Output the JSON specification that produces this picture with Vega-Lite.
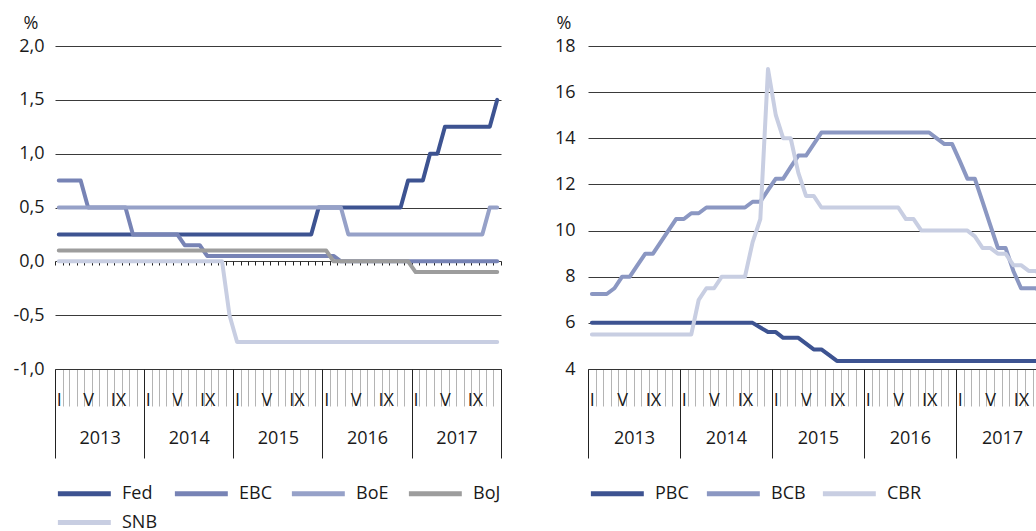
{
  "$schema": "https://vega.github.io/schema/vega-lite/v6.json",
  "padding": {"left": 12, "top": 14, "right": 0, "bottom": 0},
  "spacing": 8,
  "config": {
    "font": "Open Sans",
    "view": {"stroke": null},
    "axis": {"labelFontSize": 18, "labelColor": "#1a1a1a", "titleFontSize": 18, "titleColor": "#1a1a1a", "titleFontWeight": "normal"},
    "legend": {
      "orient": "bottom", "direction": "horizontal", "title": null,
      "symbolType": "M-1,0H7", "symbolSize": 175, "symbolStrokeWidth": 5,
      "labelFontSize": 18, "labelColor": "#1a1a1a", "labelOffset": 48,
      "gridAlign": "all", "columnPadding": 6, "rowPadding": 8, "offset": 25
    }
  },
  "resolve": {"scale": {"color": "independent"}},
  "datasets": {
    "left": [
      {"bank": "Fed", "d": "2013-01", "v": 0.25},
      {"bank": "Fed", "d": "2015-11", "v": 0.25},
      {"bank": "Fed", "d": "2015-12", "v": 0.5},
      {"bank": "Fed", "d": "2016-11", "v": 0.5},
      {"bank": "Fed", "d": "2016-12", "v": 0.75},
      {"bank": "Fed", "d": "2017-02", "v": 0.75},
      {"bank": "Fed", "d": "2017-03", "v": 1.0},
      {"bank": "Fed", "d": "2017-04", "v": 1.0},
      {"bank": "Fed", "d": "2017-05", "v": 1.25},
      {"bank": "Fed", "d": "2017-11", "v": 1.25},
      {"bank": "Fed", "d": "2017-12", "v": 1.5},
      {"bank": "EBC", "d": "2013-01", "v": 0.75},
      {"bank": "EBC", "d": "2013-04", "v": 0.75},
      {"bank": "EBC", "d": "2013-05", "v": 0.5},
      {"bank": "EBC", "d": "2013-10", "v": 0.5},
      {"bank": "EBC", "d": "2013-11", "v": 0.25},
      {"bank": "EBC", "d": "2014-05", "v": 0.25},
      {"bank": "EBC", "d": "2014-06", "v": 0.15},
      {"bank": "EBC", "d": "2014-08", "v": 0.15},
      {"bank": "EBC", "d": "2014-09", "v": 0.05},
      {"bank": "EBC", "d": "2016-02", "v": 0.05},
      {"bank": "EBC", "d": "2016-03", "v": 0.0},
      {"bank": "EBC", "d": "2017-12", "v": 0.0},
      {"bank": "BoE", "d": "2013-01", "v": 0.5},
      {"bank": "BoE", "d": "2016-03", "v": 0.5},
      {"bank": "BoE", "d": "2016-04", "v": 0.25},
      {"bank": "BoE", "d": "2017-10", "v": 0.25},
      {"bank": "BoE", "d": "2017-11", "v": 0.5},
      {"bank": "BoE", "d": "2017-12", "v": 0.5},
      {"bank": "BoJ", "d": "2013-01", "v": 0.1},
      {"bank": "BoJ", "d": "2016-01", "v": 0.1},
      {"bank": "BoJ", "d": "2016-02", "v": 0.0},
      {"bank": "BoJ", "d": "2016-12", "v": 0.0},
      {"bank": "BoJ", "d": "2017-01", "v": -0.1},
      {"bank": "BoJ", "d": "2017-12", "v": -0.1},
      {"bank": "SNB", "d": "2013-01", "v": 0.0},
      {"bank": "SNB", "d": "2014-11", "v": 0.0},
      {"bank": "SNB", "d": "2014-12", "v": -0.5},
      {"bank": "SNB", "d": "2015-01", "v": -0.75},
      {"bank": "SNB", "d": "2017-12", "v": -0.75}
    ],
    "right": [
      {"bank": "PBC", "d": "2013-01", "v": 6.0},
      {"bank": "PBC", "d": "2014-10", "v": 6.0},
      {"bank": "PBC", "d": "2014-11", "v": 5.8},
      {"bank": "PBC", "d": "2014-12", "v": 5.6},
      {"bank": "PBC", "d": "2015-01", "v": 5.6},
      {"bank": "PBC", "d": "2015-02", "v": 5.35},
      {"bank": "PBC", "d": "2015-04", "v": 5.35},
      {"bank": "PBC", "d": "2015-05", "v": 5.1},
      {"bank": "PBC", "d": "2015-06", "v": 4.85},
      {"bank": "PBC", "d": "2015-07", "v": 4.85},
      {"bank": "PBC", "d": "2015-08", "v": 4.6},
      {"bank": "PBC", "d": "2015-09", "v": 4.35},
      {"bank": "PBC", "d": "2017-12", "v": 4.35},
      {"bank": "BCB", "d": "2013-01", "v": 7.25},
      {"bank": "BCB", "d": "2013-03", "v": 7.25},
      {"bank": "BCB", "d": "2013-04", "v": 7.5},
      {"bank": "BCB", "d": "2013-05", "v": 8.0},
      {"bank": "BCB", "d": "2013-06", "v": 8.0},
      {"bank": "BCB", "d": "2013-07", "v": 8.5},
      {"bank": "BCB", "d": "2013-08", "v": 9.0},
      {"bank": "BCB", "d": "2013-09", "v": 9.0},
      {"bank": "BCB", "d": "2013-10", "v": 9.5},
      {"bank": "BCB", "d": "2013-11", "v": 10.0},
      {"bank": "BCB", "d": "2013-12", "v": 10.5},
      {"bank": "BCB", "d": "2014-01", "v": 10.5},
      {"bank": "BCB", "d": "2014-02", "v": 10.75},
      {"bank": "BCB", "d": "2014-03", "v": 10.75},
      {"bank": "BCB", "d": "2014-04", "v": 11.0},
      {"bank": "BCB", "d": "2014-09", "v": 11.0},
      {"bank": "BCB", "d": "2014-10", "v": 11.25},
      {"bank": "BCB", "d": "2014-11", "v": 11.25},
      {"bank": "BCB", "d": "2014-12", "v": 11.75},
      {"bank": "BCB", "d": "2015-01", "v": 12.25},
      {"bank": "BCB", "d": "2015-02", "v": 12.25},
      {"bank": "BCB", "d": "2015-03", "v": 12.75},
      {"bank": "BCB", "d": "2015-04", "v": 13.25},
      {"bank": "BCB", "d": "2015-05", "v": 13.25},
      {"bank": "BCB", "d": "2015-06", "v": 13.75},
      {"bank": "BCB", "d": "2015-07", "v": 14.25},
      {"bank": "BCB", "d": "2016-09", "v": 14.25},
      {"bank": "BCB", "d": "2016-10", "v": 14.0},
      {"bank": "BCB", "d": "2016-11", "v": 13.75},
      {"bank": "BCB", "d": "2016-12", "v": 13.75},
      {"bank": "BCB", "d": "2017-01", "v": 13.0},
      {"bank": "BCB", "d": "2017-02", "v": 12.25},
      {"bank": "BCB", "d": "2017-03", "v": 12.25},
      {"bank": "BCB", "d": "2017-04", "v": 11.25},
      {"bank": "BCB", "d": "2017-05", "v": 10.25},
      {"bank": "BCB", "d": "2017-06", "v": 9.25},
      {"bank": "BCB", "d": "2017-07", "v": 9.25},
      {"bank": "BCB", "d": "2017-08", "v": 8.25},
      {"bank": "BCB", "d": "2017-09", "v": 7.5},
      {"bank": "BCB", "d": "2017-11", "v": 7.5},
      {"bank": "BCB", "d": "2017-12", "v": 7.0},
      {"bank": "CBR", "d": "2013-01", "v": 5.5},
      {"bank": "CBR", "d": "2014-02", "v": 5.5},
      {"bank": "CBR", "d": "2014-03", "v": 7.0},
      {"bank": "CBR", "d": "2014-04", "v": 7.5},
      {"bank": "CBR", "d": "2014-05", "v": 7.5},
      {"bank": "CBR", "d": "2014-06", "v": 8.0},
      {"bank": "CBR", "d": "2014-09", "v": 8.0},
      {"bank": "CBR", "d": "2014-10", "v": 9.5},
      {"bank": "CBR", "d": "2014-11", "v": 10.5},
      {"bank": "CBR", "d": "2014-12", "v": 17.0},
      {"bank": "CBR", "d": "2015-01", "v": 15.0},
      {"bank": "CBR", "d": "2015-02", "v": 14.0},
      {"bank": "CBR", "d": "2015-03", "v": 14.0},
      {"bank": "CBR", "d": "2015-04", "v": 12.5},
      {"bank": "CBR", "d": "2015-05", "v": 11.5},
      {"bank": "CBR", "d": "2015-06", "v": 11.5},
      {"bank": "CBR", "d": "2015-07", "v": 11.0},
      {"bank": "CBR", "d": "2016-05", "v": 11.0},
      {"bank": "CBR", "d": "2016-06", "v": 10.5},
      {"bank": "CBR", "d": "2016-07", "v": 10.5},
      {"bank": "CBR", "d": "2016-08", "v": 10.0},
      {"bank": "CBR", "d": "2017-02", "v": 10.0},
      {"bank": "CBR", "d": "2017-03", "v": 9.75},
      {"bank": "CBR", "d": "2017-04", "v": 9.25},
      {"bank": "CBR", "d": "2017-05", "v": 9.25},
      {"bank": "CBR", "d": "2017-06", "v": 9.0},
      {"bank": "CBR", "d": "2017-07", "v": 9.0},
      {"bank": "CBR", "d": "2017-08", "v": 8.5},
      {"bank": "CBR", "d": "2017-09", "v": 8.5},
      {"bank": "CBR", "d": "2017-10", "v": 8.25},
      {"bank": "CBR", "d": "2017-11", "v": 8.25},
      {"bank": "CBR", "d": "2017-12", "v": 7.75}
    ]
  },
  "hconcat": [
    {
      "width": 446,
      "height": 323,
      "data": {"name": "left"},
      "resolve": {"axis": {"x": "independent"}},
      "layer": [
        {
          "mark": {"type": "line", "strokeWidth": 4, "strokeJoin": "round", "strokeCap": "round"},
          "encoding": {
            "x": {
              "field": "d", "type": "temporal", "timeUnit": "utcyearmonth", "bandPosition": 0.5,
              "scale": {"domain": [{"year": 2013, "month": 1, "date": 1, "utc": true}, {"year": 2018, "month": 1, "date": 1, "utc": true}], "nice": false},
              "axis": {"orient": "bottom", "title": null, "tickCount": {"interval": "month", "step": 1}, "tickSize": 37, "tickColor": "#b4b4b4", "tickWidth": 1, "labels": false, "domain": true, "domainColor": "#333333", "grid": false}
            },
            "y": {
              "field": "v", "type": "quantitative",
              "scale": {"domain": [-1, 2], "nice": false, "zero": false},
              "axis": {
                "values": [-1, -0.5, 0, 0.5, 1, 1.5, 2],
                "labelExpr": "datum.value < 0 ? '-' + replace(format(-datum.value, '.1f'), '.', ',') : replace(format(datum.value, '.1f'), '.', ',')",
                "grid": true, "gridColor": "#3a3a3a", "gridWidth": 1, "ticks": false, "domain": false, "labelPadding": 11,
                "title": "%", "titleAngle": 0, "titleAlign": "left", "titleBaseline": "alphabetic", "titleX": -32, "titleY": -18
              }
            },
            "color": {
              "field": "bank", "type": "nominal", "sort": ["Fed", "EBC", "BoE", "BoJ", "SNB"],
              "scale": {"domain": ["Fed", "EBC", "BoE", "BoJ", "SNB"], "range": ["#3d5391", "#7783b5", "#96a1c8", "#9d9d9d", "#c8cee2"]},
              "legend": {"columns": 4}
            }
          }
        },
        {
          "mark": {"type": "point", "opacity": 0},
          "encoding": {
            "x": {
              "field": "d", "type": "temporal", "timeUnit": "utcyearmonth", "bandPosition": 0.5,
              "scale": {"domain": [{"year": 2013, "month": 1, "date": 1, "utc": true}, {"year": 2018, "month": 1, "date": 1, "utc": true}], "nice": false},
              "axis": {"orient": "bottom", "title": null, "tickCount": {"interval": "year", "step": 1}, "tickSize": 89, "tickColor": "#222222", "tickWidth": 1, "labels": false, "domain": false, "grid": false}
            }
          }
        },
        {
          "mark": {"type": "point", "opacity": 0},
          "encoding": {
            "x": {
              "field": "d", "type": "temporal", "timeUnit": "utcyearmonth", "bandPosition": 0.5,
              "scale": {"domain": [{"year": 2013, "month": 1, "date": 1, "utc": true}, {"year": 2018, "month": 1, "date": 1, "utc": true}], "nice": false},
              "axis": {"orient": "bottom", "title": null, "tickCount": {"interval": "month", "step": 4}, "ticks": false, "domain": false, "grid": false,
                "labelOffset": 3.7, "labelPadding": 22, "labelFlush": false, "labelOverlap": false, "labelBound": false,
                "labelExpr": "utcyear(datum.value) > 2017 ? '' : utcmonth(datum.value) == 0 ? 'I' : utcmonth(datum.value) == 4 ? 'V' : 'IX'"}
            }
          }
        },
        {
          "mark": {"type": "point", "opacity": 0},
          "encoding": {
            "x": {
              "field": "d", "type": "temporal", "timeUnit": "utcyearmonth", "bandPosition": 0.5,
              "scale": {"domain": [{"year": 2013, "month": 1, "date": 1, "utc": true}, {"year": 2018, "month": 1, "date": 1, "utc": true}], "nice": false},
              "axis": {"orient": "bottom", "title": null, "tickCount": {"interval": "year", "step": 1}, "ticks": false, "domain": false, "grid": false,
                "labelOffset": 44.6, "labelPadding": 60, "labelFlush": false, "labelOverlap": false, "labelBound": false,
                "labelExpr": "utcyear(datum.value) > 2017 ? '' : utcFormat(datum.value, '%Y')"}
            }
          }
        },
        {
          "mark": {"type": "point", "opacity": 0},
          "encoding": {
            "x": {
              "field": "d", "type": "temporal", "timeUnit": "utcyearmonth", "bandPosition": 0.5,
              "scale": {"domain": [{"year": 2013, "month": 1, "date": 1, "utc": true}, {"year": 2018, "month": 1, "date": 1, "utc": true}], "nice": false},
              "axis": {"orient": "bottom", "title": null, "offset": -108, "tickCount": {"interval": "month", "step": 1}, "tickSize": 4, "tickColor": "#222222", "tickWidth": 1, "labels": false, "domain": false, "grid": false}
            }
          }
        }
      ]
    },
    {
      "width": 460,
      "height": 323,
      "data": {"name": "right"},
      "resolve": {"axis": {"x": "independent"}},
      "layer": [
        {
          "mark": {"type": "line", "strokeWidth": 4, "strokeJoin": "round", "strokeCap": "round"},
          "encoding": {
            "x": {
              "field": "d", "type": "temporal", "timeUnit": "utcyearmonth", "bandPosition": 0.5,
              "scale": {"domain": [{"year": 2013, "month": 1, "date": 1, "utc": true}, {"year": 2018, "month": 1, "date": 1, "utc": true}], "nice": false},
              "axis": {"orient": "bottom", "title": null, "tickCount": {"interval": "month", "step": 1}, "tickSize": 37, "tickColor": "#b4b4b4", "tickWidth": 1, "labels": false, "domain": true, "domainColor": "#333333", "grid": false}
            },
            "y": {
              "field": "v", "type": "quantitative",
              "scale": {"domain": [4, 18], "nice": false, "zero": false},
              "axis": {
                "values": [4, 6, 8, 10, 12, 14, 16, 18],
                "grid": true, "gridColor": "#3a3a3a", "gridWidth": 1, "ticks": false, "domain": false, "labelPadding": 13,
                "title": "%", "titleAngle": 0, "titleAlign": "left", "titleBaseline": "alphabetic", "titleX": -32, "titleY": -18
              }
            },
            "color": {
              "field": "bank", "type": "nominal", "sort": ["PBC", "BCB", "CBR"],
              "scale": {"domain": ["PBC", "BCB", "CBR"], "range": ["#3d5391", "#8b97c2", "#c8cee2"]},
              "legend": {"columns": 3}
            }
          }
        },
        {
          "mark": {"type": "point", "opacity": 0},
          "encoding": {
            "x": {
              "field": "d", "type": "temporal", "timeUnit": "utcyearmonth", "bandPosition": 0.5,
              "scale": {"domain": [{"year": 2013, "month": 1, "date": 1, "utc": true}, {"year": 2018, "month": 1, "date": 1, "utc": true}], "nice": false},
              "axis": {"orient": "bottom", "title": null, "tickCount": {"interval": "year", "step": 1}, "tickSize": 89, "tickColor": "#222222", "tickWidth": 1, "labels": false, "domain": false, "grid": false}
            }
          }
        },
        {
          "mark": {"type": "point", "opacity": 0},
          "encoding": {
            "x": {
              "field": "d", "type": "temporal", "timeUnit": "utcyearmonth", "bandPosition": 0.5,
              "scale": {"domain": [{"year": 2013, "month": 1, "date": 1, "utc": true}, {"year": 2018, "month": 1, "date": 1, "utc": true}], "nice": false},
              "axis": {"orient": "bottom", "title": null, "tickCount": {"interval": "month", "step": 4}, "ticks": false, "domain": false, "grid": false,
                "labelOffset": 3.8, "labelPadding": 22, "labelFlush": false, "labelOverlap": false, "labelBound": false,
                "labelExpr": "utcyear(datum.value) > 2017 ? '' : utcmonth(datum.value) == 0 ? 'I' : utcmonth(datum.value) == 4 ? 'V' : 'IX'"}
            }
          }
        },
        {
          "mark": {"type": "point", "opacity": 0},
          "encoding": {
            "x": {
              "field": "d", "type": "temporal", "timeUnit": "utcyearmonth", "bandPosition": 0.5,
              "scale": {"domain": [{"year": 2013, "month": 1, "date": 1, "utc": true}, {"year": 2018, "month": 1, "date": 1, "utc": true}], "nice": false},
              "axis": {"orient": "bottom", "title": null, "tickCount": {"interval": "year", "step": 1}, "ticks": false, "domain": false, "grid": false,
                "labelOffset": 46, "labelPadding": 60, "labelFlush": false, "labelOverlap": false, "labelBound": false,
                "labelExpr": "utcyear(datum.value) > 2017 ? '' : utcFormat(datum.value, '%Y')"}
            }
          }
        }
      ]
    }
  ]
}
